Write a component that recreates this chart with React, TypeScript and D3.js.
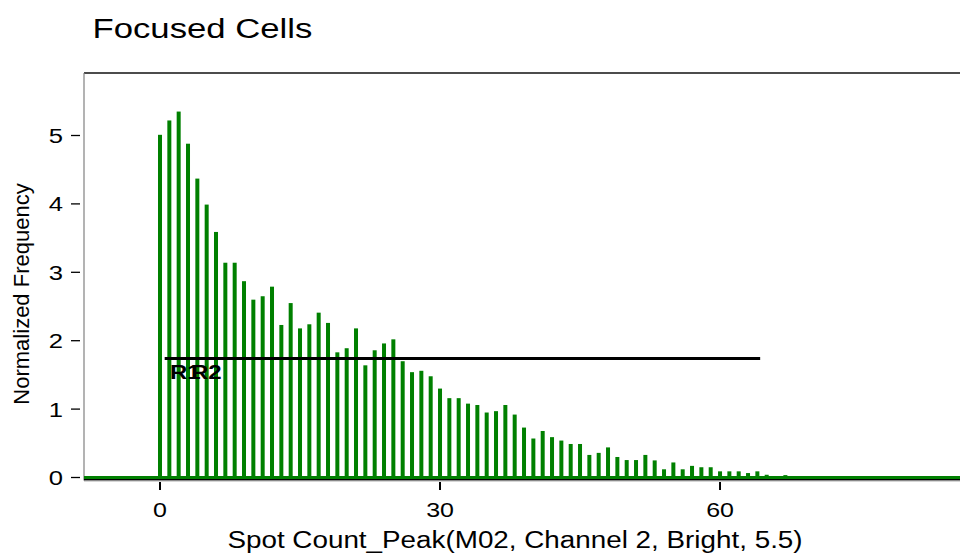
import React from "react";
import * as d3 from "d3";

// Normalized frequency per spot-count bin (bins 0..67)
const frequencies: number[] = [
  5.01, 5.22, 5.35, 4.88, 4.37, 3.99, 3.59, 3.14, 3.14, 2.87,
  2.6, 2.65, 2.79, 2.23, 2.55, 2.18, 2.24, 2.41, 2.26, 1.83,
  1.89, 2.18, 1.64, 1.86, 1.96, 2.02, 1.7, 1.54, 1.56, 1.48,
  1.3, 1.16, 1.16, 1.08, 1.06, 0.95, 0.97, 1.06, 0.92, 0.73,
  0.57, 0.68, 0.59, 0.54, 0.49, 0.49, 0.33, 0.36, 0.44, 0.3,
  0.255, 0.255, 0.33, 0.25, 0.12, 0.22, 0.12, 0.17, 0.15, 0.15,
  0.09, 0.09, 0.09, 0.065, 0.09, 0.04, 0, 0.035,
];
const binStart = 0;

const xTicks: number[] = [0, 30, 60];
const yTicks: number[] = [0, 1, 2, 3, 4, 5];

// Gate R1/R2 spanning the histogram
const gateRange: [number, number] = [0.5, 64.3];
const gateLevel = 1.74;
const gateLabels: string[] = ["R1", "R2"];

const title = "Focused Cells";
const xLabel = "Spot Count_Peak(M02, Channel 2, Bright, 5.5)";
const yLabel = "Normalized Frequency";

const W = 960;
const H = 556;
const plotLeft = 84;
const plotRight = 960;
const plotTop = 73;
const FONT = "'Liberation Sans', Arial, Helvetica, sans-serif";
const GREEN = "#008000";

const x = d3.scaleLinear().domain([-8.143, 85.71]).range([plotLeft, plotRight]);
const y = d3.scaleLinear().domain([0, 5]).range([477.5, 135.5]);

type STProps = {
  x: number;
  y: number;
  sx?: number;
  size: number;
  anchor?: "start" | "middle" | "end";
  weight?: string;
  children: React.ReactNode;
};

function StretchText({ x: tx, y: ty, sx = 1.22, size, anchor = "start", weight = "normal", children }: STProps) {
  return (
    <text
      transform={`translate(${tx},${ty}) scale(${sx},1)`}
      fontFamily={FONT}
      fontSize={size}
      fontWeight={weight}
      textAnchor={anchor}
      fill="#000"
    >
      {children}
    </text>
  );
}

export default function App() {
  const bars = frequencies.map((v, i) => ({ bin: binStart + i, v }));
  const barW = 4;

  return (
    <svg
      width={W}
      height={H}
      viewBox={`0 0 ${W} ${H}`}
      style={{ position: "absolute", left: 0, top: 0, background: "#fff" }}
    >
      <rect x={0} y={0} width={W} height={H} fill="#fff" />

      {/* title */}
      <StretchText x={92.5} y={37.7} size={28} sx={1.24}>
        {title}
      </StretchText>

      {/* frame */}
      <line x1={plotLeft} x2={plotRight} y1={plotTop} y2={plotTop} stroke="#111" strokeWidth={1.3} />
      <line x1={plotLeft} x2={plotLeft} y1={plotTop} y2={480.5} stroke="#808080" strokeWidth={1.2} />

      {/* histogram bars */}
      {bars
        .filter((b) => b.v > 0)
        .map((b) => (
          <rect
            key={b.bin}
            x={x(b.bin) - barW / 2}
            y={y(b.v)}
            width={barW}
            height={y(0) - y(b.v)}
            fill={GREEN}
          />
        ))}

      {/* baseline of the histogram outline */}
      <line x1={plotLeft} x2={plotRight} y1={y(0)} y2={y(0)} stroke={GREEN} strokeWidth={3} />

      {/* x axis */}
      <line x1={plotLeft} x2={plotRight} y1={479.8} y2={479.8} stroke="#000" strokeWidth={1.5} />
      <line x1={plotLeft} x2={plotRight} y1={481} y2={481} stroke="#999" strokeWidth={0.8} />
      {xTicks.map((t) => (
        <g key={`xt${t}`}>
          <line x1={x(t)} x2={x(t)} y1={482} y2={490} stroke="#000" strokeWidth={2} />
          <StretchText x={x(t)} y={517.3} size={20} sx={1.25} anchor="middle">
            {t}
          </StretchText>
        </g>
      ))}

      {/* y axis ticks */}
      {yTicks.map((t) => (
        <g key={`yt${t}`}>
          <line x1={71} x2={80} y1={y(t)} y2={y(t)} stroke="#000" strokeWidth={1.3} />
          <StretchText x={63} y={y(t) + 7.5} size={21} sx={1.22} anchor="end">
            {t}
          </StretchText>
        </g>
      ))}

      {/* gate */}
      <line
        x1={x(gateRange[0])}
        x2={x(gateRange[1])}
        y1={y(gateLevel)}
        y2={y(gateLevel)}
        stroke="#000"
        strokeWidth={3}
      />
      <StretchText x={170} y={379} size={20} sx={1.2} weight="bold">
        {gateLabels[0]}
      </StretchText>
      <StretchText x={191} y={379} size={20} sx={1.2} weight="bold">
        {gateLabels[1]}
      </StretchText>

      {/* axis titles */}
      <StretchText x={515} y={548.3} size={23} sx={1.21} anchor="middle">
        {xLabel}
      </StretchText>
      <text
        transform={`translate(29,294) rotate(-90)`}
        fontFamily={FONT}
        fontSize={22}
        textAnchor="middle"
        fill="#000"
      >
        {yLabel}
      </text>
    </svg>
  );
}
